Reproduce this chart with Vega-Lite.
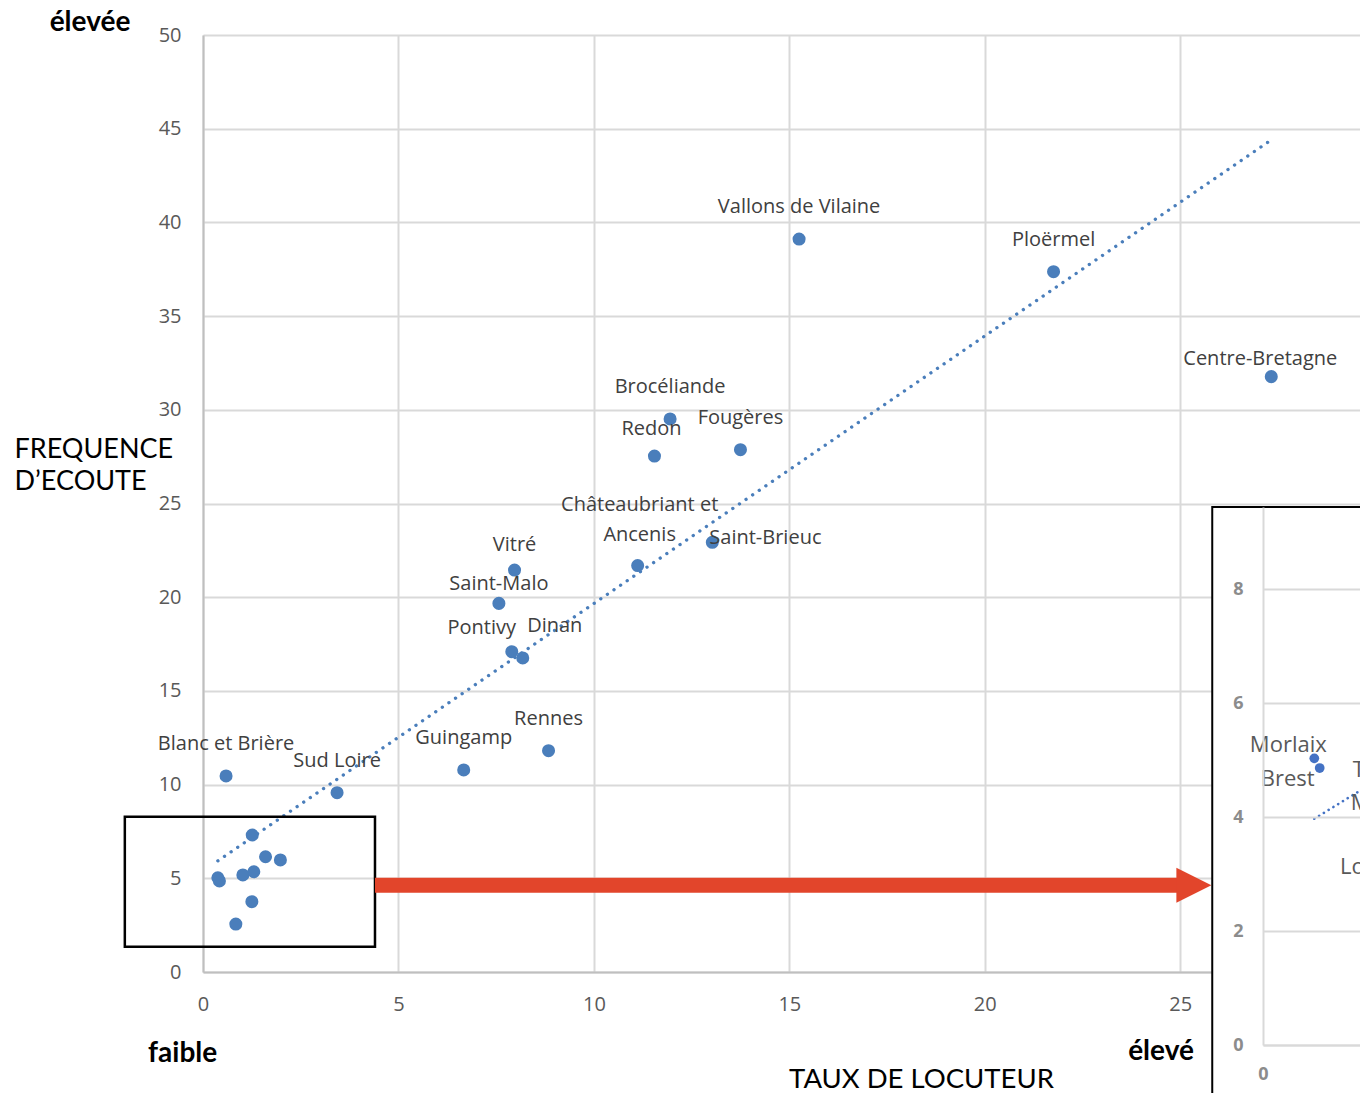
{
  "$schema": "https://vega.github.io/schema/vega-lite/v6.json",
  "width": 1157,
  "height": 937,
  "autosize": {"type": "none"},
  "padding": {"left": 203, "top": 35, "right": 0, "bottom": 121},
  "background": "white",
  "config": {
    "view": {"stroke": null},
    "axis": {
      "labelFont": "Open Sans", "labelFontSize": 20, "labelColor": "#595959",
      "ticks": false, "gridColor": "#d9d9d9", "gridWidth": 2,
      "domainColor": "#bfbfbf", "domainWidth": 2,
      "titleFont": "Lato", "titleFontSize": 27.5, "titleFontWeight": "normal", "titleColor": "#000000",
      "labelFlush": false, "labelOverlap": false
    },
    "text": {"font": "Open Sans", "fontSize": 20, "color": "#404040", "baseline": "middle", "align": "center"}
  },
  "datasets": {
    "pays": [
      {"pays": "Vallons de Vilaine", "x": 15.25, "y": 39.11},
      {"pays": "Ploërmel", "x": 21.76, "y": 37.37},
      {"pays": "Centre-Bretagne", "x": 27.33, "y": 31.77},
      {"pays": "Brocéliande", "x": 11.95, "y": 29.51},
      {"pays": "Redon", "x": 11.55, "y": 27.53},
      {"pays": "Fougères", "x": 13.75, "y": 27.87},
      {"pays": "Châteaubriant et\nAncenis", "x": 11.12, "y": 21.69},
      {"pays": "Saint-Brieuc", "x": 13.03, "y": 22.93},
      {"pays": "Vitré", "x": 7.97, "y": 21.45},
      {"pays": "Saint-Malo", "x": 7.57, "y": 19.67},
      {"pays": "Pontivy", "x": 7.90, "y": 17.09},
      {"pays": "Dinan", "x": 8.18, "y": 16.76},
      {"pays": "Rennes", "x": 8.84, "y": 11.81},
      {"pays": "Guingamp", "x": 6.67, "y": 10.78},
      {"pays": "Blanc et Brière", "x": 0.59, "y": 10.46},
      {"pays": "Sud Loire", "x": 3.43, "y": 9.57},
      {"pays": "Cornouaille", "x": 1.26, "y": 7.31},
      {"pays": "Auray", "x": 1.60, "y": 6.15},
      {"pays": "Vannes", "x": 1.98, "y": 5.98},
      {"pays": "Morlaix", "x": 0.38, "y": 5.03},
      {"pays": "Brest", "x": 0.42, "y": 4.86},
      {"pays": "Trégor-Goëlo", "x": 1.02, "y": 5.18},
      {"pays": "Nantes", "x": 1.30, "y": 5.35},
      {"pays": "Muzillac", "x": 1.25, "y": 3.75},
      {"pays": "Lorient", "x": 0.84, "y": 2.56}
    ],
    "boite": [{"x1": -2.0, "x2": 4.40, "y1": 8.29, "y2": 1.35}],
    "fleche": [{"x1": 4.40, "x2": 24.95, "xt": 25.35, "y": 4.63}],
    "cadre": [{"x1": 25.82, "x2": 34, "y1": 24.81, "y2": -9}],
    "notes": [
      {"t": "élevée", "x": -2.89, "y": 50.65},
      {"t": "faible", "x": -0.52, "y": -4.38},
      {"t": "élevé", "x": 24.51, "y": -4.27}
    ],
    "tendanceZoom": [{"x": 0.38, "y": 3.97}, {"x": 2.0, "y": 6.33}]
  },
  "layer": [
    {
      "layer": [
        {
          "data": {"name": "pays"},
          "transform": [{"regression": "y", "on": "x"}],
          "mark": {"type": "line", "color": "#4a7ebb", "strokeWidth": 3.3, "strokeDash": [0.1, 7.9], "strokeCap": "round"},
          "encoding": {
            "x": {"field": "x", "type": "quantitative", "scale": {"domain": [0, 29.6], "nice": false, "zero": false}},
            "y": {"field": "y", "type": "quantitative", "scale": {"domain": [0, 50], "nice": false}}
          }
        },
        {
          "data": {"name": "pays"},
          "mark": {"type": "circle", "size": 170, "color": "#4a7ebb", "opacity": 1},
          "encoding": {
            "x": {"field": "x", "type": "quantitative", "scale": {"domain": [0, 29.6], "nice": false, "zero": false},
              "axis": {"values": [0, 5, 10, 15, 20, 25], "grid": true, "labelPadding": 22,
                "title": "TAUX DE LOCUTEUR", "titleX": 718, "titleY": 107, "titleAlign": "center", "titleBaseline": "middle"}},
            "y": {"field": "y", "type": "quantitative", "scale": {"domain": [0, 50], "nice": false},
              "axis": {"values": [0, 5, 10, 15, 20, 25, 30, 35, 40, 45, 50], "grid": true, "labelPadding": 22,
                "title": ["FREQUENCE", "D’ECOUTE"], "titleAngle": 0, "titleX": -189, "titleY": 414, "titleFontSize": 27,
                "titleAlign": "left", "titleBaseline": "middle", "titleLineHeight": 32}}
          }
        },
        {
          "data": {"name": "pays"},
          "transform": [{"filter": {"field": "pays", "oneOf": ["Vallons de Vilaine", "Ploërmel", "Brocéliande", "Fougères", "Rennes", "Guingamp", "Blanc et Brière", "Sud Loire"]}}],
          "mark": {"type": "text", "dy": -32},
          "encoding": {"x": {"field": "x", "type": "quantitative"}, "y": {"field": "y", "type": "quantitative"}, "text": {"field": "pays"}}
        },
        {
          "data": {"name": "pays"},
          "transform": [{"filter": {"field": "pays", "equal": "Redon"}}],
          "mark": {"type": "text", "dx": -3, "dy": -27},
          "encoding": {"x": {"field": "x", "type": "quantitative"}, "y": {"field": "y", "type": "quantitative"}, "text": {"field": "pays"}}
        },
        {
          "data": {"name": "pays"},
          "transform": [{"filter": {"field": "pays", "equal": "Vitré"}}],
          "mark": {"type": "text", "dy": -25},
          "encoding": {"x": {"field": "x", "type": "quantitative"}, "y": {"field": "y", "type": "quantitative"}, "text": {"field": "pays"}}
        },
        {
          "data": {"name": "pays"},
          "transform": [{"filter": {"field": "pays", "equal": "Saint-Malo"}}],
          "mark": {"type": "text", "dy": -19},
          "encoding": {"x": {"field": "x", "type": "quantitative"}, "y": {"field": "y", "type": "quantitative"}, "text": {"field": "pays"}}
        },
        {
          "data": {"name": "pays"},
          "transform": [{"filter": {"field": "pays", "equal": "Pontivy"}}],
          "mark": {"type": "text", "dx": -30, "dy": -24},
          "encoding": {"x": {"field": "x", "type": "quantitative"}, "y": {"field": "y", "type": "quantitative"}, "text": {"field": "pays"}}
        },
        {
          "data": {"name": "pays"},
          "transform": [{"filter": {"field": "pays", "equal": "Dinan"}}],
          "mark": {"type": "text", "dx": 32, "dy": -32},
          "encoding": {"x": {"field": "x", "type": "quantitative"}, "y": {"field": "y", "type": "quantitative"}, "text": {"field": "pays"}}
        },
        {
          "data": {"name": "pays"},
          "transform": [{"filter": {"field": "pays", "equal": "Centre-Bretagne"}}],
          "mark": {"type": "text", "dx": -11, "dy": -18},
          "encoding": {"x": {"field": "x", "type": "quantitative"}, "y": {"field": "y", "type": "quantitative"}, "text": {"field": "pays"}}
        },
        {
          "data": {"name": "pays"},
          "transform": [{"filter": {"field": "pays", "equal": "Saint-Brieuc"}}],
          "mark": {"type": "text", "align": "left", "dx": -3, "dy": -4},
          "encoding": {"x": {"field": "x", "type": "quantitative"}, "y": {"field": "y", "type": "quantitative"}, "text": {"field": "pays"}}
        },
        {
          "data": {"name": "pays"},
          "transform": [{"filter": {"field": "pays", "equal": "Châteaubriant et\nAncenis"}}],
          "mark": {"type": "text", "dx": 2, "dy": -61, "lineBreak": "\n", "lineHeight": 30},
          "encoding": {"x": {"field": "x", "type": "quantitative"}, "y": {"field": "y", "type": "quantitative"}, "text": {"field": "pays"}}
        },
        {
          "data": {"name": "boite"},
          "mark": {"type": "rect", "fillOpacity": 0, "stroke": "#000000", "strokeWidth": 2.5},
          "encoding": {"x": {"field": "x1", "type": "quantitative"}, "x2": {"field": "x2"}, "y": {"field": "y1", "type": "quantitative"}, "y2": {"field": "y2"}}
        },
        {
          "data": {"name": "fleche"},
          "mark": {"type": "rule", "color": "#e2452b", "strokeWidth": 15, "strokeCap": "butt"},
          "encoding": {"x": {"field": "x1", "type": "quantitative"}, "x2": {"field": "x2"}, "y": {"field": "y", "type": "quantitative"}}
        },
        {
          "data": {"name": "fleche"},
          "mark": {"type": "point", "shape": "M-1,-1L1,0L-1,1Z", "size": 1225, "filled": true, "color": "#e2452b", "opacity": 1, "strokeWidth": 0},
          "encoding": {"x": {"field": "xt", "type": "quantitative"}, "y": {"field": "y", "type": "quantitative"}}
        },
        {
          "data": {"name": "cadre"},
          "mark": {"type": "rect", "fill": "#ffffff", "stroke": "#000000", "strokeWidth": 2},
          "encoding": {"x": {"field": "x1", "type": "quantitative"}, "x2": {"field": "x2"}, "y": {"field": "y1", "type": "quantitative"}, "y2": {"field": "y2"}}
        },
        {
          "data": {"name": "notes"},
          "mark": {"type": "text", "font": "Lato", "fontWeight": "bold", "fontSize": 28, "color": "#000000"},
          "encoding": {"x": {"field": "x", "type": "quantitative"}, "y": {"field": "y", "type": "quantitative"}, "text": {"field": "t"}}
        }
      ]
    },
    {
      "layer": [
        {
          "data": {"name": "tendanceZoom"},
          "mark": {"type": "line", "color": "#4472c4", "strokeWidth": 2.6, "strokeDash": [0.1, 5.5], "strokeCap": "round"},
          "encoding": {
            "x": {"field": "x", "type": "quantitative", "scale": {"domain": [0, 2], "range": [1060, 1330], "nice": false, "zero": false},
              "axis": {"orient": "bottom", "offset": 73, "values": [0, 1, 2], "format": "d", "grid": false, "domainColor": "#d9d9d9",
                "labelFontSize": 18, "labelFontWeight": "bold", "labelColor": "#8c8c8c", "labelPadding": 20, "title": null, "zindex": 1}},
            "y": {"field": "y", "type": "quantitative", "scale": {"domain": [0, 9.44], "range": [1010, 472], "nice": false, "zero": false},
              "axis": {"orient": "left", "offset": -1060, "values": [0, 2, 4, 6, 8], "format": "d", "grid": true, "domainColor": "#d9d9d9",
                "labelFontSize": 18, "labelFontWeight": "bold", "labelColor": "#8c8c8c", "labelPadding": 20, "title": null, "zindex": 1}}
          }
        },
        {
          "data": {"name": "pays"},
          "transform": [{"filter": "datum.x < 2.2 && datum.y < 8"}],
          "mark": {"type": "circle", "size": 95, "color": "#4472c4", "opacity": 1},
          "encoding": {
            "x": {"field": "x", "type": "quantitative", "scale": {"domain": [0, 2], "range": [1060, 1330], "nice": false, "zero": false}},
            "y": {"field": "y", "type": "quantitative", "scale": {"domain": [0, 9.44], "range": [1010, 472], "nice": false, "zero": false}}
          }
        },
        {
          "data": {"name": "pays"},
          "transform": [{"filter": {"field": "pays", "equal": "Morlaix"}}],
          "mark": {"type": "text", "fontSize": 22, "color": "#595959", "dx": -26, "dy": -13},
          "encoding": {"x": {"field": "x", "type": "quantitative"}, "y": {"field": "y", "type": "quantitative"}, "text": {"field": "pays"}}
        },
        {
          "data": {"name": "pays"},
          "transform": [{"filter": {"field": "pays", "equal": "Brest"}}],
          "mark": {"type": "text", "fontSize": 22, "color": "#595959", "dx": -32, "dy": 11},
          "encoding": {"x": {"field": "x", "type": "quantitative"}, "y": {"field": "y", "type": "quantitative"}, "text": {"field": "pays"}}
        },
        {
          "data": {"name": "pays"},
          "transform": [{"filter": {"field": "pays", "equal": "Lorient"}}],
          "mark": {"type": "text", "fontSize": 22, "color": "#595959", "dy": -32},
          "encoding": {"x": {"field": "x", "type": "quantitative"}, "y": {"field": "y", "type": "quantitative"}, "text": {"field": "pays"}}
        },
        {
          "data": {"name": "pays"},
          "transform": [{"filter": {"field": "pays", "equal": "Trégor-Goëlo"}}],
          "mark": {"type": "text", "fontSize": 22, "color": "#595959", "align": "left", "dx": -48, "dy": 20},
          "encoding": {"x": {"field": "x", "type": "quantitative"}, "y": {"field": "y", "type": "quantitative"}, "text": {"field": "pays"}}
        },
        {
          "data": {"name": "pays"},
          "transform": [{"filter": {"field": "pays", "equal": "Muzillac"}}],
          "mark": {"type": "text", "fontSize": 22, "color": "#595959", "align": "left", "dx": -81, "dy": -28},
          "encoding": {"x": {"field": "x", "type": "quantitative"}, "y": {"field": "y", "type": "quantitative"}, "text": {"field": "pays"}}
        }
      ]
    }
  ],
  "resolve": {"scale": {"x": "independent", "y": "independent"}}
}
